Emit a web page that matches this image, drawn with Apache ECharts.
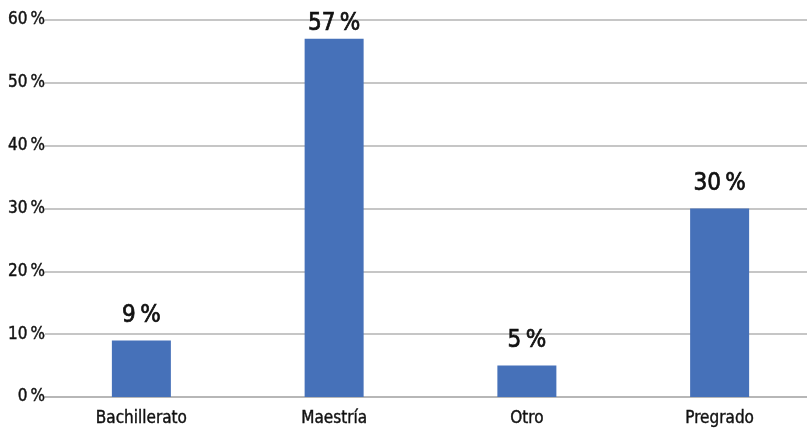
<!DOCTYPE html>
<html>
<head>
<meta charset="utf-8">
<script src="https://cdn.jsdelivr.net/npm/echarts@6/dist/echarts.min.js"></script>
<style>
  html, body { margin: 0; padding: 0; background: #fff; overflow: hidden; }
  /* the plot runs a little past the right edge of the window */
  #chart { width: 816px; height: 433px; }
</style>
</head>
<body>
<div id="chart"></div>
<script>
// Nivel académico: porcentaje por categoría
const categories = ['Bachillerato', 'Maestría', 'Otro', 'Pregrado'];
const percentages = [9, 57, 5, 30];
const yTicks = [0, 10, 20, 30, 40, 50, 60];

const FONT = '"DejaVu Sans Condensed", "Liberation Sans", sans-serif';
const pct = v => v + '\u2009%';

const chart = echarts.init(document.getElementById('chart'), null, { renderer: 'canvas' });

chart.setOption({
  animation: false,
  grid: { left: 45, right: 0, top: 20, bottom: 36, containLabel: false },
  xAxis: {
    type: 'category',
    data: categories,
    axisLine: { show: true, lineStyle: { color: '#b3b3b3', width: 1.5 } },
    axisTick: { show: false },
    axisLabel: {
      color: '#111', fontFamily: FONT, fontSize: 17, margin: 13,
      textBorderColor: '#111', textBorderWidth: 0.4
    }
  },
  yAxis: {
    type: 'value',
    min: yTicks[0],
    max: yTicks[yTicks.length - 1],
    interval: yTicks[1] - yTicks[0],
    axisLine: { show: false },
    axisTick: { show: false },
    splitLine: { lineStyle: { color: '#b3b3b3', width: 1.5 } },
    axisLabel: {
      color: '#111', fontFamily: FONT, fontSize: 17, margin: 0, formatter: pct,
      textBorderColor: '#111', textBorderWidth: 0.4
    }
  },
  series: [{
    type: 'bar',
    barWidth: 59,
    itemStyle: { color: '#4671b9' },
    data: percentages.map(v => ({
      value: v,
      label: { distance: v > 55 ? 3 : 13 }
    })),
    label: {
      show: true,
      position: 'top',
      color: '#111',
      fontFamily: FONT,
      fontSize: 24,
      textBorderColor: '#111',
      textBorderWidth: 0.7,
      formatter: p => pct(p.value)
    }
  }]
});
</script>
</body>
</html>
